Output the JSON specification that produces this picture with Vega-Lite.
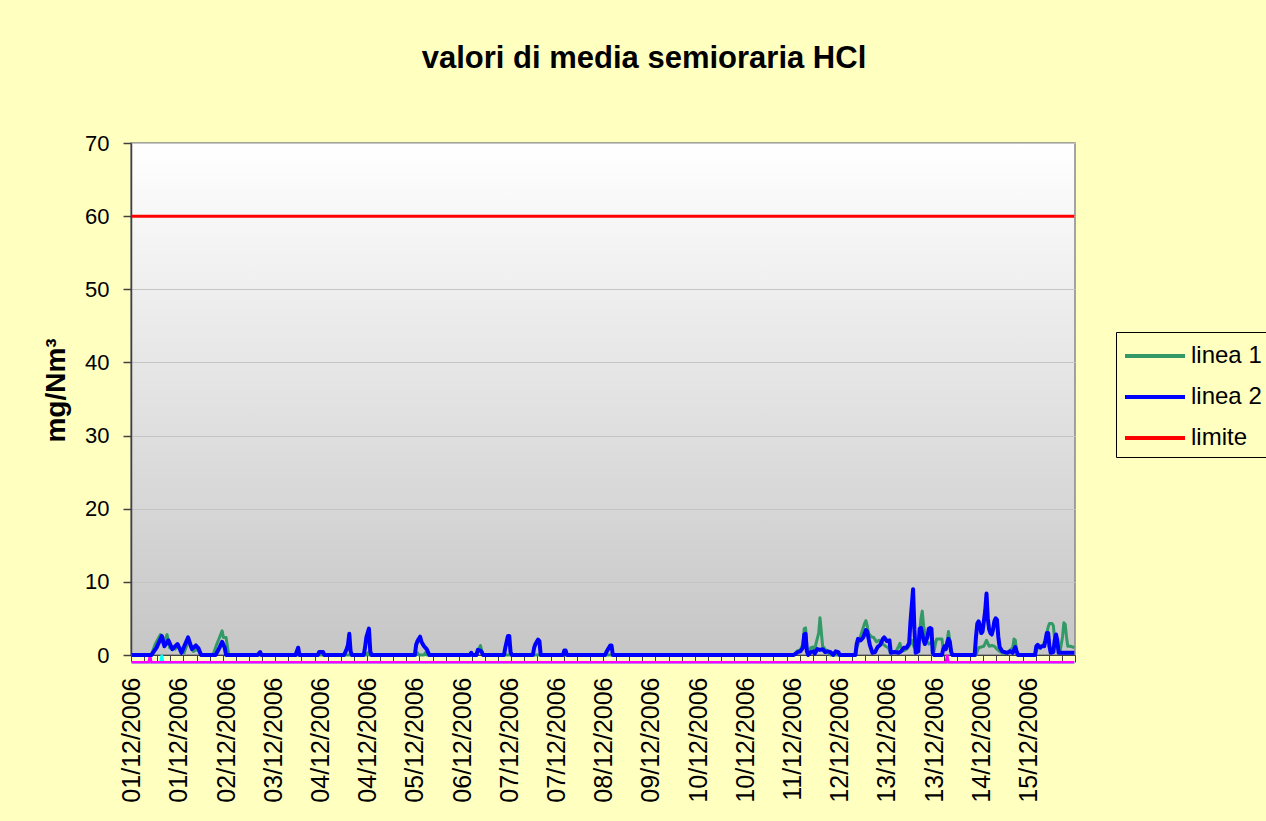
{
  "$schema": "https://vega.github.io/schema/vega-lite/v6.json",
  "width": 944,
  "height": 512,
  "autosize": {"type": "none"},
  "padding": {"left": 131, "top": 143, "right": 191, "bottom": 166},
  "background": "#FFFFC0",
  "title": {"text": "valori di media semioraria HCl", "fontSize": 31, "font": "Liberation Sans", "fontWeight": "bold", "color": "#000000", "anchor": "middle", "frame": "group", "dx": 41, "offset": 57},
  "config": {
    "font": "Liberation Sans",
    "view": {
      "fill": {"gradient": "linear", "x1": 0, "y1": 0, "x2": 0, "y2": 1, "stops": [{"offset": 0, "color": "#FFFFFF"}, {"offset": 1, "color": "#C6C6C6"}]},
      "stroke": "#888888",
      "strokeWidth": 1.5
    }
  },
  "data": {"values": [
    {"t":"2006-12-01T00:00Z","s":"limite","v":60},{"t":"2006-12-15T23:30Z","s":"limite","v":60},
    {"t":"2006-12-01T00:00Z","s":"c","v":-1},{"t":"2006-12-01T11:00Z","s":"c","v":-1},{"t":"2006-12-01T11:30Z","s":"c","v":0},{"t":"2006-12-01T12:00Z","s":"c","v":-1},{"t":"2006-12-15T23:30Z","s":"c","v":-1},
    {"t":"2006-12-01T00:00Z","s":"m","v":-1},{"t":"2006-12-01T06:30Z","s":"m","v":-1},{"t":"2006-12-01T07:00Z","s":"m","v":0},{"t":"2006-12-01T07:30Z","s":"m","v":-1},{"t":"2006-12-13T22:30Z","s":"m","v":-1},{"t":"2006-12-13T23:00Z","s":"m","v":0},{"t":"2006-12-13T23:30Z","s":"m","v":-1},{"t":"2006-12-15T23:30Z","s":"m","v":-1},

    {"t":"2006-12-01T00:00Z","s":"linea 1","v":0},{"t":"2006-12-01T07:30Z","s":"linea 1","v":0},{"t":"2006-12-01T09:00Z","s":"linea 1","v":1.5},{"t":"2006-12-01T11:00Z","s":"linea 1","v":2.8},{"t":"2006-12-01T12:00Z","s":"linea 1","v":1.5},{"t":"2006-12-01T13:30Z","s":"linea 1","v":2.8},{"t":"2006-12-01T14:30Z","s":"linea 1","v":1.0},{"t":"2006-12-01T16:30Z","s":"linea 1","v":0.8},{"t":"2006-12-01T17:30Z","s":"linea 1","v":1.2},{"t":"2006-12-01T20:00Z","s":"linea 1","v":0.3},{"t":"2006-12-01T21:30Z","s":"linea 1","v":1.8},{"t":"2006-12-01T23:30Z","s":"linea 1","v":0.5},
    {"t":"2006-12-02T01:00Z","s":"linea 1","v":0.8},{"t":"2006-12-02T02:30Z","s":"linea 1","v":0},{"t":"2006-12-02T07:00Z","s":"linea 1","v":0},{"t":"2006-12-02T08:30Z","s":"linea 1","v":1.5},{"t":"2006-12-02T10:30Z","s":"linea 1","v":3.3},{"t":"2006-12-02T11:00Z","s":"linea 1","v":2.4},{"t":"2006-12-02T12:00Z","s":"linea 1","v":2.4},{"t":"2006-12-02T13:00Z","s":"linea 1","v":0},
    {"t":"2006-12-04T17:30Z","s":"linea 1","v":0},{"t":"2006-12-04T18:00Z","s":"linea 1","v":0.3},{"t":"2006-12-04T18:30Z","s":"linea 1","v":0},
    {"t":"2006-12-05T12:30Z","s":"linea 1","v":0},{"t":"2006-12-05T13:00Z","s":"linea 1","v":0.3},{"t":"2006-12-05T13:30Z","s":"linea 1","v":0},{"t":"2006-12-05T15:30Z","s":"linea 1","v":0},{"t":"2006-12-05T16:00Z","s":"linea 1","v":0.3},{"t":"2006-12-05T16:30Z","s":"linea 1","v":0},
    {"t":"2006-12-06T11:00Z","s":"linea 1","v":0},{"t":"2006-12-06T12:30Z","s":"linea 1","v":0.9},{"t":"2006-12-06T13:00Z","s":"linea 1","v":1.3},{"t":"2006-12-06T13:30Z","s":"linea 1","v":0.6},{"t":"2006-12-06T14:00Z","s":"linea 1","v":0},
    {"t":"2006-12-11T12:30Z","s":"linea 1","v":0},{"t":"2006-12-11T14:00Z","s":"linea 1","v":0.6},{"t":"2006-12-11T15:00Z","s":"linea 1","v":0.7},{"t":"2006-12-11T16:00Z","s":"linea 1","v":1.5},{"t":"2006-12-11T16:30Z","s":"linea 1","v":3.6},{"t":"2006-12-11T17:00Z","s":"linea 1","v":3.7},{"t":"2006-12-11T17:30Z","s":"linea 1","v":1.0},{"t":"2006-12-11T18:00Z","s":"linea 1","v":0.2},{"t":"2006-12-11T19:00Z","s":"linea 1","v":1.0},{"t":"2006-12-11T20:00Z","s":"linea 1","v":1.1},{"t":"2006-12-11T20:30Z","s":"linea 1","v":0.4},{"t":"2006-12-11T21:00Z","s":"linea 1","v":1.6},{"t":"2006-12-11T22:00Z","s":"linea 1","v":3.0},{"t":"2006-12-11T22:30Z","s":"linea 1","v":5.1},{"t":"2006-12-11T23:00Z","s":"linea 1","v":3.2},{"t":"2006-12-11T23:30Z","s":"linea 1","v":1.2},
    {"t":"2006-12-12T00:30Z","s":"linea 1","v":0.8},{"t":"2006-12-12T01:30Z","s":"linea 1","v":0.4},{"t":"2006-12-12T02:30Z","s":"linea 1","v":0},{"t":"2006-12-12T12:00Z","s":"linea 1","v":0},{"t":"2006-12-12T12:30Z","s":"linea 1","v":1.0},{"t":"2006-12-12T13:30Z","s":"linea 1","v":2.0},{"t":"2006-12-12T14:30Z","s":"linea 1","v":3.2},{"t":"2006-12-12T15:30Z","s":"linea 1","v":4.3},{"t":"2006-12-12T16:00Z","s":"linea 1","v":4.7},{"t":"2006-12-12T16:30Z","s":"linea 1","v":4.0},{"t":"2006-12-12T17:00Z","s":"linea 1","v":3.0},{"t":"2006-12-12T18:00Z","s":"linea 1","v":2.5},{"t":"2006-12-12T19:00Z","s":"linea 1","v":2.4},{"t":"2006-12-12T20:00Z","s":"linea 1","v":1.8},{"t":"2006-12-12T21:00Z","s":"linea 1","v":2.0},{"t":"2006-12-12T21:30Z","s":"linea 1","v":1.9},{"t":"2006-12-12T22:30Z","s":"linea 1","v":1.5},{"t":"2006-12-12T23:30Z","s":"linea 1","v":1.2},
    {"t":"2006-12-13T00:30Z","s":"linea 1","v":1.0},{"t":"2006-12-13T01:30Z","s":"linea 1","v":0.3},{"t":"2006-12-13T03:30Z","s":"linea 1","v":0.5},{"t":"2006-12-13T04:30Z","s":"linea 1","v":1.2},{"t":"2006-12-13T05:00Z","s":"linea 1","v":1.6},{"t":"2006-12-13T05:30Z","s":"linea 1","v":0.8},{"t":"2006-12-13T06:30Z","s":"linea 1","v":0.6},{"t":"2006-12-13T07:30Z","s":"linea 1","v":0.8},{"t":"2006-12-13T08:30Z","s":"linea 1","v":1.2},{"t":"2006-12-13T09:30Z","s":"linea 1","v":2.0},{"t":"2006-12-13T10:30Z","s":"linea 1","v":1.0},{"t":"2006-12-13T11:30Z","s":"linea 1","v":0.8},{"t":"2006-12-13T12:30Z","s":"linea 1","v":3.0},{"t":"2006-12-13T13:00Z","s":"linea 1","v":5.0},{"t":"2006-12-13T13:30Z","s":"linea 1","v":6.0},{"t":"2006-12-13T14:00Z","s":"linea 1","v":4.0},{"t":"2006-12-13T15:00Z","s":"linea 1","v":2.0},{"t":"2006-12-13T16:00Z","s":"linea 1","v":1.5},{"t":"2006-12-13T17:00Z","s":"linea 1","v":1.8},{"t":"2006-12-13T17:30Z","s":"linea 1","v":2.0},{"t":"2006-12-13T18:00Z","s":"linea 1","v":0.5},{"t":"2006-12-13T18:30Z","s":"linea 1","v":1.5},{"t":"2006-12-13T19:00Z","s":"linea 1","v":2.2},{"t":"2006-12-13T20:00Z","s":"linea 1","v":2.2},{"t":"2006-12-13T21:00Z","s":"linea 1","v":2.2},{"t":"2006-12-13T21:30Z","s":"linea 1","v":0.8},{"t":"2006-12-13T22:30Z","s":"linea 1","v":1.2},{"t":"2006-12-13T23:00Z","s":"linea 1","v":2.0},{"t":"2006-12-13T23:30Z","s":"linea 1","v":3.2},
    {"t":"2006-12-14T00:00Z","s":"linea 1","v":2.0},{"t":"2006-12-14T00:30Z","s":"linea 1","v":0.5},{"t":"2006-12-14T01:00Z","s":"linea 1","v":0},{"t":"2006-12-14T10:00Z","s":"linea 1","v":0},{"t":"2006-12-14T11:00Z","s":"linea 1","v":1.0},{"t":"2006-12-14T13:00Z","s":"linea 1","v":1.2},{"t":"2006-12-14T14:00Z","s":"linea 1","v":2.0},{"t":"2006-12-14T15:00Z","s":"linea 1","v":1.2},{"t":"2006-12-14T16:00Z","s":"linea 1","v":1.3},{"t":"2006-12-14T17:00Z","s":"linea 1","v":1.2},{"t":"2006-12-14T18:00Z","s":"linea 1","v":0.8},{"t":"2006-12-14T19:00Z","s":"linea 1","v":0.5},{"t":"2006-12-14T20:00Z","s":"linea 1","v":0.3},{"t":"2006-12-14T21:00Z","s":"linea 1","v":0.2},{"t":"2006-12-14T22:00Z","s":"linea 1","v":0.3},
    {"t":"2006-12-15T00:00Z","s":"linea 1","v":1.0},{"t":"2006-12-15T00:30Z","s":"linea 1","v":2.2},{"t":"2006-12-15T01:00Z","s":"linea 1","v":2.0},{"t":"2006-12-15T01:30Z","s":"linea 1","v":0.4},{"t":"2006-12-15T02:00Z","s":"linea 1","v":0},{"t":"2006-12-15T08:30Z","s":"linea 1","v":0},{"t":"2006-12-15T09:30Z","s":"linea 1","v":1.0},{"t":"2006-12-15T10:30Z","s":"linea 1","v":1.1},{"t":"2006-12-15T11:30Z","s":"linea 1","v":1.2},{"t":"2006-12-15T12:30Z","s":"linea 1","v":2.2},{"t":"2006-12-15T13:30Z","s":"linea 1","v":3.8},{"t":"2006-12-15T14:00Z","s":"linea 1","v":4.3},{"t":"2006-12-15T15:00Z","s":"linea 1","v":4.3},{"t":"2006-12-15T15:30Z","s":"linea 1","v":4.0},{"t":"2006-12-15T16:00Z","s":"linea 1","v":2.0},{"t":"2006-12-15T17:00Z","s":"linea 1","v":1.0},{"t":"2006-12-15T18:00Z","s":"linea 1","v":0.4},{"t":"2006-12-15T19:00Z","s":"linea 1","v":2.5},{"t":"2006-12-15T19:30Z","s":"linea 1","v":4.4},{"t":"2006-12-15T20:00Z","s":"linea 1","v":4.2},{"t":"2006-12-15T20:30Z","s":"linea 1","v":2.5},{"t":"2006-12-15T21:00Z","s":"linea 1","v":1.2},{"t":"2006-12-15T22:00Z","s":"linea 1","v":1.2},{"t":"2006-12-15T23:30Z","s":"linea 1","v":1.0},

    {"t":"2006-12-01T00:00Z","s":"linea 2","v":0},{"t":"2006-12-01T07:30Z","s":"linea 2","v":0},{"t":"2006-12-01T09:30Z","s":"linea 2","v":1.0},{"t":"2006-12-01T11:30Z","s":"linea 2","v":2.6},{"t":"2006-12-01T12:30Z","s":"linea 2","v":1.2},{"t":"2006-12-01T14:00Z","s":"linea 2","v":2.0},{"t":"2006-12-01T15:30Z","s":"linea 2","v":0.8},{"t":"2006-12-01T17:30Z","s":"linea 2","v":1.5},{"t":"2006-12-01T19:00Z","s":"linea 2","v":0.3},{"t":"2006-12-01T21:30Z","s":"linea 2","v":2.4},{"t":"2006-12-01T23:00Z","s":"linea 2","v":0.8},
    {"t":"2006-12-02T00:30Z","s":"linea 2","v":1.3},{"t":"2006-12-02T01:30Z","s":"linea 2","v":0.9},{"t":"2006-12-02T02:30Z","s":"linea 2","v":0},{"t":"2006-12-02T08:00Z","s":"linea 2","v":0},{"t":"2006-12-02T09:30Z","s":"linea 2","v":1.0},{"t":"2006-12-02T10:30Z","s":"linea 2","v":1.8},{"t":"2006-12-02T11:30Z","s":"linea 2","v":1.0},{"t":"2006-12-02T12:00Z","s":"linea 2","v":0},
    {"t":"2006-12-03T00:00Z","s":"linea 2","v":0},{"t":"2006-12-03T01:00Z","s":"linea 2","v":0.4},{"t":"2006-12-03T01:30Z","s":"linea 2","v":0},{"t":"2006-12-03T14:30Z","s":"linea 2","v":0},{"t":"2006-12-03T15:30Z","s":"linea 2","v":1.0},{"t":"2006-12-03T16:00Z","s":"linea 2","v":0},{"t":"2006-12-03T23:00Z","s":"linea 2","v":0},{"t":"2006-12-03T23:30Z","s":"linea 2","v":0.4},
    {"t":"2006-12-04T01:00Z","s":"linea 2","v":0.4},{"t":"2006-12-04T01:30Z","s":"linea 2","v":0},{"t":"2006-12-04T09:00Z","s":"linea 2","v":0},{"t":"2006-12-04T10:00Z","s":"linea 2","v":0.8},{"t":"2006-12-04T10:30Z","s":"linea 2","v":1.4},{"t":"2006-12-04T11:00Z","s":"linea 2","v":2.9},{"t":"2006-12-04T11:30Z","s":"linea 2","v":0.5},{"t":"2006-12-04T12:00Z","s":"linea 2","v":0},{"t":"2006-12-04T16:30Z","s":"linea 2","v":0},{"t":"2006-12-04T17:00Z","s":"linea 2","v":1.0},{"t":"2006-12-04T17:30Z","s":"linea 2","v":2.4},{"t":"2006-12-04T18:30Z","s":"linea 2","v":3.6},{"t":"2006-12-04T19:00Z","s":"linea 2","v":0.5},{"t":"2006-12-04T19:30Z","s":"linea 2","v":0},
    {"t":"2006-12-05T12:00Z","s":"linea 2","v":0},{"t":"2006-12-05T12:30Z","s":"linea 2","v":1.4},{"t":"2006-12-05T13:00Z","s":"linea 2","v":1.9},{"t":"2006-12-05T14:00Z","s":"linea 2","v":2.5},{"t":"2006-12-05T14:30Z","s":"linea 2","v":1.8},{"t":"2006-12-05T15:30Z","s":"linea 2","v":1.2},{"t":"2006-12-05T16:30Z","s":"linea 2","v":0.8},{"t":"2006-12-05T17:30Z","s":"linea 2","v":0},
    {"t":"2006-12-06T09:00Z","s":"linea 2","v":0},{"t":"2006-12-06T09:30Z","s":"linea 2","v":0.3},{"t":"2006-12-06T10:00Z","s":"linea 2","v":0},{"t":"2006-12-06T11:30Z","s":"linea 2","v":0},{"t":"2006-12-06T12:00Z","s":"linea 2","v":0.7},{"t":"2006-12-06T13:00Z","s":"linea 2","v":0.6},{"t":"2006-12-06T13:30Z","s":"linea 2","v":0.4},{"t":"2006-12-06T14:00Z","s":"linea 2","v":0},{"t":"2006-12-06T22:00Z","s":"linea 2","v":0},{"t":"2006-12-06T22:30Z","s":"linea 2","v":1.0},{"t":"2006-12-06T23:30Z","s":"linea 2","v":2.6},
    {"t":"2006-12-07T00:00Z","s":"linea 2","v":2.6},{"t":"2006-12-07T00:30Z","s":"linea 2","v":0.4},{"t":"2006-12-07T01:00Z","s":"linea 2","v":0},{"t":"2006-12-07T09:00Z","s":"linea 2","v":0},{"t":"2006-12-07T09:30Z","s":"linea 2","v":1.0},{"t":"2006-12-07T10:00Z","s":"linea 2","v":1.5},{"t":"2006-12-07T11:00Z","s":"linea 2","v":2.1},{"t":"2006-12-07T11:30Z","s":"linea 2","v":1.9},{"t":"2006-12-07T12:00Z","s":"linea 2","v":0},{"t":"2006-12-07T20:30Z","s":"linea 2","v":0},{"t":"2006-12-07T21:00Z","s":"linea 2","v":0.6},{"t":"2006-12-07T21:30Z","s":"linea 2","v":0.6},{"t":"2006-12-07T22:00Z","s":"linea 2","v":0},
    {"t":"2006-12-08T12:30Z","s":"linea 2","v":0},{"t":"2006-12-08T13:30Z","s":"linea 2","v":0.7},{"t":"2006-12-08T14:00Z","s":"linea 2","v":1.0},{"t":"2006-12-08T14:30Z","s":"linea 2","v":1.3},{"t":"2006-12-08T15:00Z","s":"linea 2","v":1.3},{"t":"2006-12-08T15:30Z","s":"linea 2","v":0},
    {"t":"2006-12-11T12:30Z","s":"linea 2","v":0},{"t":"2006-12-11T14:00Z","s":"linea 2","v":0.4},{"t":"2006-12-11T15:00Z","s":"linea 2","v":0.5},{"t":"2006-12-11T16:00Z","s":"linea 2","v":1.0},{"t":"2006-12-11T16:30Z","s":"linea 2","v":2.8},{"t":"2006-12-11T17:00Z","s":"linea 2","v":2.9},{"t":"2006-12-11T17:30Z","s":"linea 2","v":0.5},{"t":"2006-12-11T18:00Z","s":"linea 2","v":0},{"t":"2006-12-11T19:00Z","s":"linea 2","v":0.4},{"t":"2006-12-11T20:00Z","s":"linea 2","v":0.5},{"t":"2006-12-11T20:30Z","s":"linea 2","v":0.2},{"t":"2006-12-11T21:30Z","s":"linea 2","v":0.8},{"t":"2006-12-11T22:30Z","s":"linea 2","v":0.7},{"t":"2006-12-11T23:30Z","s":"linea 2","v":0.8},
    {"t":"2006-12-12T00:30Z","s":"linea 2","v":0.4},{"t":"2006-12-12T01:30Z","s":"linea 2","v":0.5},{"t":"2006-12-12T02:30Z","s":"linea 2","v":0.4},{"t":"2006-12-12T03:30Z","s":"linea 2","v":0},{"t":"2006-12-12T04:30Z","s":"linea 2","v":0.5},{"t":"2006-12-12T05:30Z","s":"linea 2","v":0.4},{"t":"2006-12-12T06:00Z","s":"linea 2","v":0},{"t":"2006-12-12T12:00Z","s":"linea 2","v":0},{"t":"2006-12-12T12:30Z","s":"linea 2","v":1.5},{"t":"2006-12-12T13:00Z","s":"linea 2","v":2.2},{"t":"2006-12-12T14:00Z","s":"linea 2","v":2.0},{"t":"2006-12-12T15:00Z","s":"linea 2","v":2.4},{"t":"2006-12-12T16:00Z","s":"linea 2","v":3.4},{"t":"2006-12-12T16:30Z","s":"linea 2","v":3.2},{"t":"2006-12-12T17:30Z","s":"linea 2","v":1.4},{"t":"2006-12-12T18:30Z","s":"linea 2","v":0.3},{"t":"2006-12-12T19:30Z","s":"linea 2","v":0.4},{"t":"2006-12-12T20:30Z","s":"linea 2","v":1.1},{"t":"2006-12-12T21:30Z","s":"linea 2","v":1.4},{"t":"2006-12-12T22:30Z","s":"linea 2","v":2.2},{"t":"2006-12-12T23:00Z","s":"linea 2","v":2.4},
    {"t":"2006-12-13T00:00Z","s":"linea 2","v":1.9},{"t":"2006-12-13T01:00Z","s":"linea 2","v":2.0},{"t":"2006-12-13T01:30Z","s":"linea 2","v":0.3},{"t":"2006-12-13T03:00Z","s":"linea 2","v":0.4},{"t":"2006-12-13T04:30Z","s":"linea 2","v":0.3},{"t":"2006-12-13T05:30Z","s":"linea 2","v":0.5},{"t":"2006-12-13T06:30Z","s":"linea 2","v":1.0},{"t":"2006-12-13T07:30Z","s":"linea 2","v":1.0},{"t":"2006-12-13T08:30Z","s":"linea 2","v":1.6},{"t":"2006-12-13T09:00Z","s":"linea 2","v":4.5},{"t":"2006-12-13T10:00Z","s":"linea 2","v":9.0},{"t":"2006-12-13T10:30Z","s":"linea 2","v":3.5},{"t":"2006-12-13T11:00Z","s":"linea 2","v":0.3},{"t":"2006-12-13T12:00Z","s":"linea 2","v":0.5},{"t":"2006-12-13T12:30Z","s":"linea 2","v":3.6},{"t":"2006-12-13T13:00Z","s":"linea 2","v":3.7},{"t":"2006-12-13T14:00Z","s":"linea 2","v":2.0},{"t":"2006-12-13T14:30Z","s":"linea 2","v":1.5},{"t":"2006-12-13T15:30Z","s":"linea 2","v":2.5},{"t":"2006-12-13T16:00Z","s":"linea 2","v":3.6},{"t":"2006-12-13T16:30Z","s":"linea 2","v":3.7},{"t":"2006-12-13T17:00Z","s":"linea 2","v":3.6},{"t":"2006-12-13T17:30Z","s":"linea 2","v":0.3},{"t":"2006-12-13T18:00Z","s":"linea 2","v":0},{"t":"2006-12-13T21:00Z","s":"linea 2","v":0},{"t":"2006-12-13T21:30Z","s":"linea 2","v":0.8},{"t":"2006-12-13T22:00Z","s":"linea 2","v":1.2},{"t":"2006-12-13T22:30Z","s":"linea 2","v":0.8},{"t":"2006-12-13T23:00Z","s":"linea 2","v":1.6},{"t":"2006-12-13T23:30Z","s":"linea 2","v":2.2},
    {"t":"2006-12-14T00:00Z","s":"linea 2","v":1.8},{"t":"2006-12-14T00:30Z","s":"linea 2","v":0.5},{"t":"2006-12-14T01:00Z","s":"linea 2","v":0},{"t":"2006-12-14T09:30Z","s":"linea 2","v":0},{"t":"2006-12-14T10:00Z","s":"linea 2","v":2.5},{"t":"2006-12-14T10:30Z","s":"linea 2","v":4.3},{"t":"2006-12-14T11:00Z","s":"linea 2","v":4.6},{"t":"2006-12-14T11:30Z","s":"linea 2","v":4.0},{"t":"2006-12-14T12:00Z","s":"linea 2","v":3.0},{"t":"2006-12-14T12:30Z","s":"linea 2","v":3.2},{"t":"2006-12-14T13:30Z","s":"linea 2","v":6.0},{"t":"2006-12-14T14:00Z","s":"linea 2","v":8.4},{"t":"2006-12-14T14:30Z","s":"linea 2","v":5.0},{"t":"2006-12-14T15:00Z","s":"linea 2","v":3.5},{"t":"2006-12-14T15:30Z","s":"linea 2","v":3.0},{"t":"2006-12-14T16:00Z","s":"linea 2","v":2.8},{"t":"2006-12-14T16:30Z","s":"linea 2","v":3.5},{"t":"2006-12-14T17:00Z","s":"linea 2","v":4.6},{"t":"2006-12-14T17:30Z","s":"linea 2","v":5.0},{"t":"2006-12-14T18:00Z","s":"linea 2","v":4.8},{"t":"2006-12-14T18:30Z","s":"linea 2","v":2.5},{"t":"2006-12-14T19:00Z","s":"linea 2","v":1.1},{"t":"2006-12-14T20:00Z","s":"linea 2","v":0.5},{"t":"2006-12-14T21:00Z","s":"linea 2","v":0.4},{"t":"2006-12-14T22:00Z","s":"linea 2","v":0.3},{"t":"2006-12-14T23:00Z","s":"linea 2","v":0.5},
    {"t":"2006-12-15T00:00Z","s":"linea 2","v":0.3},{"t":"2006-12-15T01:00Z","s":"linea 2","v":1.1},{"t":"2006-12-15T01:30Z","s":"linea 2","v":0.5},{"t":"2006-12-15T02:00Z","s":"linea 2","v":0},{"t":"2006-12-15T08:30Z","s":"linea 2","v":0},{"t":"2006-12-15T09:00Z","s":"linea 2","v":1.2},{"t":"2006-12-15T09:30Z","s":"linea 2","v":1.4},{"t":"2006-12-15T10:30Z","s":"linea 2","v":1.0},{"t":"2006-12-15T11:00Z","s":"linea 2","v":1.2},{"t":"2006-12-15T12:00Z","s":"linea 2","v":1.2},{"t":"2006-12-15T12:30Z","s":"linea 2","v":2.0},{"t":"2006-12-15T13:00Z","s":"linea 2","v":3.0},{"t":"2006-12-15T13:30Z","s":"linea 2","v":3.0},{"t":"2006-12-15T14:00Z","s":"linea 2","v":1.2},{"t":"2006-12-15T14:30Z","s":"linea 2","v":0.3},{"t":"2006-12-15T15:30Z","s":"linea 2","v":0.4},{"t":"2006-12-15T16:00Z","s":"linea 2","v":2.0},{"t":"2006-12-15T16:30Z","s":"linea 2","v":2.8},{"t":"2006-12-15T17:00Z","s":"linea 2","v":2.0},{"t":"2006-12-15T17:30Z","s":"linea 2","v":0.3},{"t":"2006-12-15T19:00Z","s":"linea 2","v":0.3},{"t":"2006-12-15T20:30Z","s":"linea 2","v":0.3},{"t":"2006-12-15T22:00Z","s":"linea 2","v":0.3},{"t":"2006-12-15T23:30Z","s":"linea 2","v":0.3}
  ]},
  "resolve": {"axis": {"x": "independent"}},
  "layer": [
    {
      "transform": [{"filter": "datum.s === 'c'"}],
      "mark": {"type": "line", "color": "#00FFFF", "strokeWidth": 2.5},
      "encoding": {
        "x": {"field": "t", "type": "temporal", "scale": {"type": "utc", "domain": [1164930300000, 1166226300000]},
          "axis": {"orient": "bottom", "values": [1164930300000,1164948300000,1164966300000,1164984300000,1165002300000,1165020300000,1165038300000,1165056300000,1165074300000,1165092300000,1165110300000,1165128300000,1165146300000,1165164300000,1165182300000,1165200300000,1165218300000,1165236300000,1165254300000,1165272300000,1165290300000,1165308300000,1165326300000,1165344300000,1165362300000,1165380300000,1165398300000,1165416300000,1165434300000,1165452300000,1165470300000,1165488300000,1165506300000,1165524300000,1165542300000,1165560300000,1165578300000,1165596300000,1165614300000,1165632300000,1165650300000,1165668300000,1165686300000,1165704300000,1165722300000,1165740300000,1165758300000,1165776300000,1165794300000,1165812300000,1165830300000,1165848300000,1165866300000,1165884300000,1165902300000,1165920300000,1165938300000,1165956300000,1165974300000,1165992300000,1166010300000,1166028300000,1166046300000,1166064300000,1166082300000,1166100300000,1166118300000,1166136300000,1166154300000,1166172300000,1166190300000,1166208300000,1166226300000],
            "labels": false, "domain": true, "domainColor": "#404040", "domainWidth": 1, "ticks": true, "tickSize": 7, "tickColor": "#404040", "tickWidth": 1, "grid": false, "title": null}},
        "y": {"field": "v", "type": "quantitative", "scale": {"domain": [0, 70]},
          "axis": {"values": [0,10,20,30,40,50,60,70], "grid": true, "gridColor": "#C4C4C4", "gridWidth": 1, "domainColor": "#404040", "domainWidth": 1.5, "tickColor": "#404040", "tickSize": 8, "tickWidth": 1.5, "labelFontSize": 22, "labelColor": "#000000", "labelPadding": 14, "title": "mg/Nm³", "titleFontSize": 28, "titleFontWeight": "bold", "titleColor": "#000000", "titlePadding": 14, "titleY": 247}}
      }
    },
    {
      "transform": [{"filter": "datum.s === 'm'"}],
      "mark": {"type": "line", "color": "#FF00FF", "strokeWidth": 2.5},
      "encoding": {
        "x": {"field": "t", "type": "temporal", "scale": {"type": "utc", "domain": [1164930300000, 1166226300000]},
          "axis": {"orient": "bottom", "values": [1164931200000,1164996000000,1165060800000,1165125600000,1165190400000,1165255200000,1165320000000,1165384800000,1165449600000,1165514400000,1165579200000,1165644000000,1165708800000,1165773600000,1165838400000,1165903200000,1165968000000,1166032800000,1166097600000,1166162400000],
            "format": "%d/%m/%Y", "labelAngle": 270, "labelFontSize": 25, "labelColor": "#000000", "labelPadding": 22, "labelOverlap": false, "labelFlush": false, "labelBound": false, "ticks": false, "domain": false, "grid": false, "title": null}},
        "y": {"field": "v", "type": "quantitative", "scale": {"domain": [0, 70]}}
      }
    },
    {
      "transform": [{"filter": "datum.s === 'linea 1'"}],
      "mark": {"type": "line", "strokeWidth": 3, "strokeJoin": "round"},
      "encoding": {
        "x": {"field": "t", "type": "temporal", "scale": {"type": "utc", "domain": [1164930300000, 1166226300000]}, "axis": null},
        "y": {"field": "v", "type": "quantitative", "scale": {"domain": [0, 70]}},
        "color": {"field": "s", "type": "nominal", "scale": {"domain": ["linea 1", "linea 2", "limite"], "range": ["#339966", "#0000FF", "#FF0000"]},
          "legend": {"orient": "none", "legendX": 985, "legendY": 189, "title": null, "symbolType": "M-1,0H3", "symbolSize": 900, "symbolStrokeWidth": 4, "labelFontSize": 24, "labelColor": "#000000", "strokeColor": "#000000", "padding": 7, "rowPadding": 12, "labelOffset": 34}}
      }
    },
    {
      "transform": [{"filter": "datum.s === 'linea 2'"}],
      "mark": {"type": "line", "strokeWidth": 4, "strokeJoin": "round"},
      "encoding": {
        "x": {"field": "t", "type": "temporal", "scale": {"type": "utc", "domain": [1164930300000, 1166226300000]}, "axis": null},
        "y": {"field": "v", "type": "quantitative", "scale": {"domain": [0, 70]}},
        "color": {"field": "s", "type": "nominal"}
      }
    },
    {
      "transform": [{"filter": "datum.s === 'limite'"}],
      "mark": {"type": "line", "strokeWidth": 3},
      "encoding": {
        "x": {"field": "t", "type": "temporal", "scale": {"type": "utc", "domain": [1164930300000, 1166226300000]}, "axis": null},
        "y": {"field": "v", "type": "quantitative", "scale": {"domain": [0, 70]}},
        "color": {"field": "s", "type": "nominal"}
      }
    }
  ]
}
